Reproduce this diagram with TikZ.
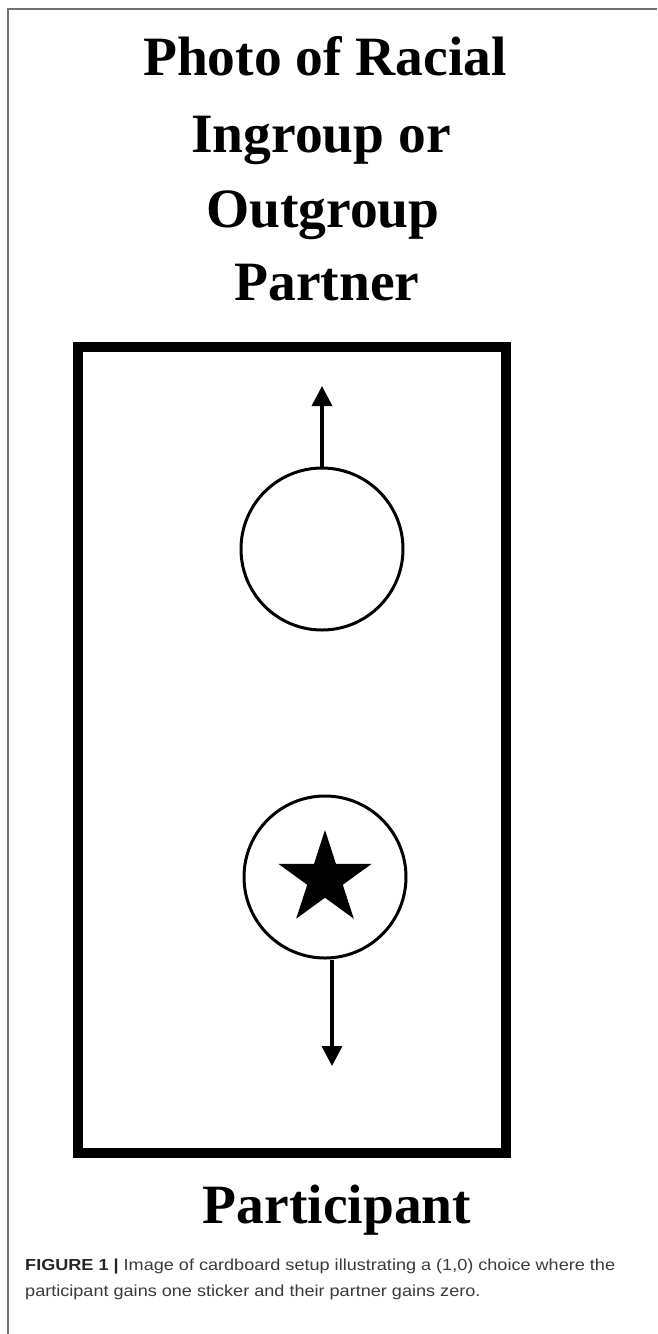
\documentclass[tikz,border=0pt]{standalone}
\usepackage{fontspec}
\setmainfont{Liberation Serif}
\setsansfont{Liberation Sans}
\usetikzlibrary{arrows.meta}
\definecolor{captxt}{HTML}{3A3A3A}
\definecolor{framegray}{HTML}{707070}
\tikzset{
  titletext/.style={font=\fontsize{55.5}{75}\selectfont\bfseries, inner sep=0pt, anchor=base},
  cardbox/.style={draw=black, line width=10pt},
  coin/.style={draw=black, line width=3pt, circle, minimum size=162pt, inner sep=0pt},
  movearrow/.style={line width=3.5pt, -{Triangle[width=20pt,length=20pt]}},
  captionstyle/.style={font=\sffamily\fontsize{16}{25.5}\selectfont, text=captxt, inner sep=0pt, anchor=base west, align=left, xscale=1.13, transform shape}
}
\begin{document}
\begin{tikzpicture}[x=1pt,y=1pt]
\useasboundingbox (0,0) rectangle (657,-1334);
% outer page frame (left and top)
\draw[framegray, line width=2pt] (7.5,-1334) -- (7.5,-9) -- (657,-9);
% title
\node[titletext] (t1) at (325,-75) {Photo of Racial};
\node[titletext] (t2) at (321,-152) {Ingroup or};
\node[titletext] (t3) at (323,-227) {Outgroup};
\node[titletext] (t4) at (327,-300) {Partner};
% card
\draw[cardbox] (77.5,-347) rectangle (505.5,-1153);
% circles
\node[coin] (topcoin) at (322,-549) {};
\node[coin] (botcoin) at (325,-877) {};
% star
\fill[black] plot[samples at={0,...,9}] ({325+ifthenelse(mod(\x,2)==0,49,18.7)*cos(90+36*\x)}, {-879+ifthenelse(mod(\x,2)==0,49,18.7)*sin(90+36*\x)}) -- cycle;
% arrows
\coordinate (uptip) at (322,-386);
\coordinate (downtip) at (332,-1066);
\draw[movearrow] (topcoin.north) -- (uptip);
\draw[movearrow] (botcoin.south -| downtip) -- (downtip);
% participant
\node[titletext] (part) at (337,-1223) {Participant};
% caption
\node[captionstyle] (cap) at (25,-1296) {\textbf{\color{black!85}FIGURE 1 |} Image of cardboard setup illustrating a (1,0) choice where the\\participant gains one sticker and their partner gains zero.};
\end{tikzpicture}
\end{document}
